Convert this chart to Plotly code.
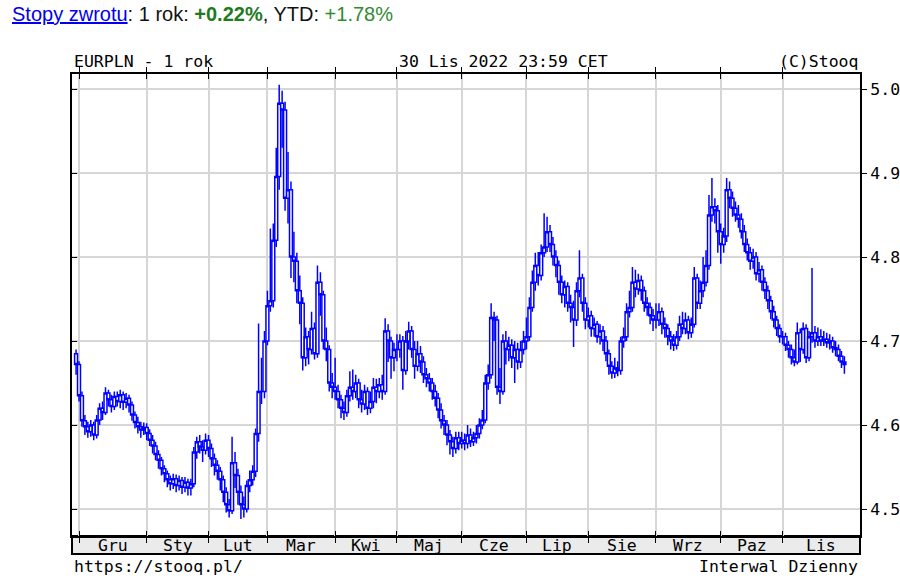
import plotly.graph_objects as go
import pandas as pd

# ---------------- data (EURPLN daily, 30 Nov 2021 - 30 Nov 2022) ----------------
first_open = 4.685

close_dec = [4.672, 4.635, 4.605, 4.598, 4.592, 4.600, 4.588, 4.606, 4.620, 4.615,
             4.638, 4.630, 4.622, 4.634, 4.628, 4.636, 4.627, 4.632, 4.624, 4.612,
             4.603, 4.598, 4.594, 4.597]
close_jan = [4.590, 4.582, 4.575, 4.565, 4.558, 4.548, 4.542, 4.535, 4.530, 4.536,
             4.528, 4.534, 4.526, 4.532, 4.525, 4.530, 4.568, 4.580, 4.574, 4.570, 4.582]
close_feb = [4.572, 4.560, 4.552, 4.545, 4.535, 4.520, 4.505, 4.498, 4.555, 4.540,
             4.520, 4.505, 4.500, 4.528, 4.535, 4.545, 4.590, 4.640, 4.640, 4.700]
close_mar = [4.742, 4.748, 4.820, 4.896, 4.983, 4.975, 4.870, 4.880, 4.800, 4.795,
             4.760, 4.745, 4.680, 4.705, 4.690, 4.715, 4.685, 4.770, 4.755, 4.700,
             4.690, 4.650, 4.645]
close_apr = [4.640, 4.630, 4.620, 4.615, 4.635, 4.645, 4.640, 4.650, 4.630, 4.625,
             4.640, 4.620, 4.628, 4.645, 4.640, 4.648, 4.640, 4.712, 4.700, 4.680, 4.690]
close_may = [4.690, 4.700, 4.665, 4.700, 4.712, 4.690, 4.670, 4.685, 4.675, 4.660,
             4.655, 4.650, 4.640, 4.632, 4.618, 4.605, 4.600, 4.588, 4.580, 4.572,
             4.585, 4.578]
close_jun = [4.582, 4.578, 4.588, 4.580, 4.585, 4.590, 4.600, 4.606, 4.650, 4.660,
             4.728, 4.725, 4.645, 4.640, 4.700, 4.690, 4.695, 4.680, 4.690, 4.675,
             4.690, 4.700]
close_jul = [4.705, 4.740, 4.770, 4.790, 4.778, 4.805, 4.812, 4.830, 4.815, 4.800,
             4.790, 4.770, 4.755, 4.765, 4.745, 4.740, 4.725, 4.760, 4.775, 4.745, 4.725]
close_aug = [4.730, 4.715, 4.720, 4.705, 4.712, 4.700, 4.685, 4.670, 4.662, 4.668,
             4.665, 4.700, 4.705, 4.735, 4.740, 4.770, 4.762, 4.772, 4.760, 4.745,
             4.740, 4.730, 4.725]
close_sep = [4.725, 4.735, 4.720, 4.715, 4.705, 4.700, 4.695, 4.705, 4.720, 4.715,
             4.725, 4.710, 4.720, 4.775, 4.745, 4.760, 4.770, 4.790, 4.850, 4.860,
             4.855, 4.830]
close_oct = [4.815, 4.825, 4.880, 4.870, 4.858, 4.850, 4.845, 4.830, 4.815, 4.805,
             4.795, 4.800, 4.780, 4.785, 4.770, 4.760, 4.748, 4.735, 4.725, 4.715, 4.705]
close_nov = [4.705, 4.695, 4.690, 4.680, 4.675, 4.710, 4.690, 4.715, 4.680, 4.705,
             4.710, 4.700, 4.705, 4.700, 4.702, 4.698, 4.700, 4.692, 4.690, 4.682,
             4.675, 4.672]

high_dec = [4.690, 4.676, 4.640, 4.612, 4.604, 4.606, 4.604, 4.612, 4.626, 4.628, 4.645, 4.642,
            4.636, 4.640, 4.640, 4.642, 4.640, 4.638, 4.636, 4.628, 4.616, 4.610, 4.604, 4.603]
low_dec = [4.660, 4.628, 4.598, 4.588, 4.585, 4.586, 4.582, 4.584, 4.600, 4.606, 4.612, 4.622,
           4.615, 4.618, 4.622, 4.620, 4.618, 4.620, 4.615, 4.605, 4.596, 4.590, 4.585, 4.588]
high_jan = [4.602, 4.595, 4.588, 4.580, 4.570, 4.562, 4.552, 4.546, 4.540, 4.542, 4.541,
            4.540, 4.538, 4.538, 4.536, 4.536, 4.574, 4.586, 4.588, 4.582, 4.590]
low_jan = [4.582, 4.575, 4.566, 4.558, 4.548, 4.540, 4.532, 4.526, 4.522, 4.524, 4.520,
           4.522, 4.518, 4.520, 4.516, 4.516, 4.526, 4.560, 4.566, 4.556, 4.565]
high_feb = [4.588, 4.578, 4.566, 4.558, 4.550, 4.540, 4.526, 4.512, 4.586, 4.568,
            4.548, 4.528, 4.515, 4.534, 4.546, 4.552, 4.596, 4.721, 4.680, 4.712]
low_feb = [4.562, 4.550, 4.540, 4.535, 4.522, 4.508, 4.496, 4.490, 4.494, 4.525,
           4.505, 4.488, 4.490, 4.496, 4.520, 4.528, 4.538, 4.580, 4.625, 4.632]
high_mar = [4.760, 4.834, 4.840, 4.930, 5.005, 4.998, 4.985, 4.925, 4.890, 4.830, 4.805, 4.778,
            4.752, 4.716, 4.712, 4.735, 4.722, 4.790, 4.782, 4.760, 4.716, 4.695, 4.662]
low_mar = [4.695, 4.735, 4.740, 4.812, 4.880, 4.930, 4.855, 4.840, 4.775, 4.770, 4.745, 4.720,
           4.665, 4.670, 4.672, 4.684, 4.678, 4.680, 4.730, 4.690, 4.676, 4.640, 4.632]
high_apr = [4.680, 4.648, 4.636, 4.628, 4.642, 4.664, 4.666, 4.660, 4.655, 4.642, 4.648,
            4.645, 4.640, 4.656, 4.655, 4.656, 4.660, 4.727, 4.720, 4.705, 4.698]
low_apr = [4.630, 4.620, 4.608, 4.606, 4.610, 4.628, 4.630, 4.632, 4.620, 4.615, 4.618,
           4.612, 4.614, 4.620, 4.626, 4.632, 4.630, 4.636, 4.675, 4.655, 4.664]
high_may = [4.708, 4.708, 4.706, 4.712, 4.723, 4.718, 4.700, 4.700, 4.694, 4.682, 4.668,
            4.662, 4.656, 4.648, 4.638, 4.626, 4.612, 4.606, 4.594, 4.586, 4.592, 4.592]
low_may = [4.676, 4.680, 4.642, 4.660, 4.690, 4.680, 4.655, 4.664, 4.662, 4.650, 4.645,
           4.640, 4.630, 4.622, 4.608, 4.596, 4.588, 4.576, 4.565, 4.562, 4.566, 4.570]
high_jun = [4.592, 4.590, 4.600, 4.596, 4.592, 4.600, 4.608, 4.618, 4.660, 4.672, 4.745,
            4.735, 4.730, 4.668, 4.708, 4.712, 4.705, 4.702, 4.700, 4.698, 4.700, 4.712]
low_jun = [4.572, 4.570, 4.572, 4.574, 4.575, 4.578, 4.584, 4.595, 4.602, 4.642, 4.655,
           4.700, 4.636, 4.625, 4.636, 4.672, 4.676, 4.668, 4.650, 4.666, 4.668, 4.684]
high_jul = [4.728, 4.752, 4.784, 4.805, 4.806, 4.815, 4.852, 4.848, 4.838, 4.824, 4.808,
            4.796, 4.778, 4.772, 4.770, 4.755, 4.748, 4.770, 4.808, 4.780, 4.752]
low_jul = [4.690, 4.700, 4.735, 4.760, 4.766, 4.772, 4.800, 4.806, 4.806, 4.790, 4.776,
           4.755, 4.745, 4.740, 4.735, 4.722, 4.693, 4.718, 4.752, 4.735, 4.714]
high_aug = [4.740, 4.736, 4.728, 4.724, 4.720, 4.718, 4.706, 4.690, 4.676, 4.680, 4.676, 4.705,
            4.716, 4.745, 4.760, 4.788, 4.785, 4.780, 4.778, 4.765, 4.752, 4.746, 4.738]
low_aug = [4.716, 4.705, 4.705, 4.698, 4.696, 4.688, 4.676, 4.660, 4.655, 4.656, 4.658, 4.660,
           4.692, 4.700, 4.728, 4.735, 4.752, 4.755, 4.748, 4.735, 4.730, 4.720, 4.712]
high_sep = [4.745, 4.745, 4.740, 4.728, 4.720, 4.712, 4.708, 4.712, 4.730, 4.735, 4.734,
            4.730, 4.728, 4.788, 4.780, 4.772, 4.800, 4.808, 4.874, 4.894, 4.870, 4.862]
low_sep = [4.715, 4.718, 4.708, 4.704, 4.695, 4.690, 4.688, 4.690, 4.700, 4.708, 4.708,
           4.702, 4.704, 4.716, 4.738, 4.738, 4.752, 4.765, 4.785, 4.842, 4.840, 4.805]
high_oct = [4.840, 4.835, 4.894, 4.890, 4.878, 4.866, 4.862, 4.852, 4.838, 4.822, 4.812,
            4.810, 4.806, 4.794, 4.790, 4.776, 4.766, 4.754, 4.742, 4.730, 4.720]
low_oct = [4.792, 4.805, 4.818, 4.858, 4.848, 4.842, 4.835, 4.822, 4.806, 4.796, 4.785,
           4.786, 4.772, 4.770, 4.760, 4.750, 4.738, 4.726, 4.716, 4.706, 4.698]
high_nov = [4.712, 4.710, 4.700, 4.696, 4.690, 4.722, 4.715, 4.722, 4.720, 4.712, 4.787,
            4.718, 4.716, 4.714, 4.712, 4.710, 4.708, 4.705, 4.700, 4.696, 4.688, 4.682]
low_nov = [4.696, 4.688, 4.680, 4.672, 4.670, 4.672, 4.675, 4.685, 4.674, 4.676, 4.698,
           4.692, 4.694, 4.694, 4.694, 4.692, 4.690, 4.686, 4.682, 4.676, 4.668, 4.661]

month_labels = ["Gru", "Sty", "Lut", "Mar", "Kwi", "Maj", "Cze", "Lip", "Sie", "Wrz", "Paz", "Lis"]
y_ticks = [4.5, 4.6, 4.7, 4.8, 4.9, 5.0]

# ---------------- assemble ----------------
close = (close_dec + close_jan + close_feb + close_mar + close_apr + close_may +
         close_jun + close_jul + close_aug + close_sep + close_oct + close_nov)
high = (high_dec + high_jan + high_feb + high_mar + high_apr + high_may +
        high_jun + high_jul + high_aug + high_sep + high_oct + high_nov)
low = (low_dec + low_jan + low_feb + low_mar + low_apr + low_may +
       low_jun + low_jul + low_aug + low_sep + low_oct + low_nov)
open_ = [first_open] + close[:-1]   # FX: each day opens at previous close

dates = pd.bdate_range("2021-11-30", "2022-11-30")
n = min(len(dates), len(close))
dates = dates[:n]
xs = [d.strftime("%Y-%m-%d") for d in dates]

month_idx = []
for i in range(1, n):
    if dates[i].month != dates[i - 1].month:
        month_idx.append(i)

X_MIN, X_MAX = -1.38, 266.3
Y_MIN, Y_MAX = 4.4679, 5.0179

BLUE = "#0000FF"
MONO = "DejaVu Sans Mono"
FS = 16.5

fig = go.Figure()
fig.add_trace(go.Candlestick(
    x=xs, open=open_[:n], high=high[:n], low=low[:n], close=close[:n],
    increasing=dict(line=dict(color=BLUE, width=1.5), fillcolor="white"),
    decreasing=dict(line=dict(color=BLUE, width=1.5), fillcolor="white"),
    whiskerwidth=0, showlegend=False, hoverinfo="skip",
))
fig.add_trace(go.Scatter(x=[xs[0]], y=[4.7], yaxis="y2", mode="markers",
                         marker=dict(opacity=0), showlegend=False, hoverinfo="skip"))

fig.update_layout(
    width=900, height=578,
    margin=dict(l=72, r=40, t=74, b=42, autoexpand=False),
    paper_bgcolor="white", plot_bgcolor="white",
    showlegend=False, boxgap=0.0, boxgroupgap=0.0,
    xaxis=dict(
        type="category", range=[X_MIN, X_MAX], automargin=False,
        tickmode="array", tickvals=[xs[i] for i in month_idx],
        showticklabels=False, ticks="inside", ticklen=5, tickwidth=1, tickcolor="black",
        showgrid=True, gridcolor="#d6d6d6", gridwidth=1.5,
        showline=True, linecolor="black", linewidth=2, mirror="allticks",
        rangeslider=dict(visible=False), fixedrange=True, zeroline=False,
    ),
    yaxis=dict(
        side="right", range=[Y_MIN, Y_MAX], automargin=False,
        tickmode="array", tickvals=y_ticks, ticktext=[f"{v:.1f}" for v in y_ticks],
        ticks="outside", ticklen=5, tickwidth=1, tickcolor="black",
        tickfont=dict(family=MONO, size=FS, color="black"),
        showgrid=True, gridcolor="#d6d6d6", gridwidth=1.5,
        showline=True, linecolor="black", linewidth=2, mirror=True,
        zeroline=False, fixedrange=True,
    ),
    yaxis2=dict(
        overlaying="y", side="left", range=[Y_MIN, Y_MAX], matches="y", automargin=False,
        tickmode="array", tickvals=y_ticks, showticklabels=False,
        ticks="inside", ticklen=5, tickwidth=1, tickcolor="black",
        showgrid=False, showline=False, zeroline=False, fixedrange=True,
    ),
)

band_h = 18 / 462
fig.add_shape(type="rect", xref="paper", yref="paper", x0=0, x1=1, y0=-band_h, y1=0,
              fillcolor="#ebebeb", line=dict(color="black", width=2), layer="below")

bounds = month_idx + [X_MAX]
for k, lab in enumerate(month_labels):
    mid = (bounds[k] + bounds[k + 1]) / 2
    fig.add_annotation(x=mid, xref="x", y=-band_h / 2, yref="paper", text=lab,
                       showarrow=False, xanchor="center", yanchor="middle",
                       font=dict(family=MONO, size=FS, color="black"))

hdr = dict(family=MONO, size=FS, color="black")
fig.add_annotation(x=0, xref="paper", y=1.0, yref="paper", yshift=1, text="EURPLN - 1 rok",
                   showarrow=False, xanchor="left", yanchor="bottom", font=hdr)
fig.add_annotation(x=(397 - 72) / 788, xref="paper", y=1.0, yref="paper", yshift=1,
                   text="30 Lis 2022 23:59 CET", showarrow=False,
                   xanchor="left", yanchor="bottom", font=hdr)
fig.add_annotation(x=1, xref="paper", y=1.0, yref="paper", yshift=1, text="(C)Stooq",
                   showarrow=False, xanchor="right", yanchor="bottom", font=hdr)
fig.add_annotation(x=0, xref="paper", y=-band_h, yref="paper", yshift=-1, text="https://stooq.pl/",
                   showarrow=False, xanchor="left", yanchor="top", font=hdr)
fig.add_annotation(x=1, xref="paper", y=-band_h, yref="paper", yshift=-1, text="Interwal Dzienny",
                   showarrow=False, xanchor="right", yanchor="top", font=hdr)

title_html = ("<span style='color:#0000EE;text-decoration:underline'>Stopy zwrotu</span>"
              ": 1 rok: <b><span style='color:#1E7B1E'>+0.22%</span></b>, YTD: "
              "<span style='color:#2E8B2E'>+1.78%</span>")
fig.add_annotation(x=(10 - 72) / 788, xref="paper", y=1 + (74 - 14) / 462, yref="paper",
                   text=title_html, showarrow=False, xanchor="left", yanchor="middle",
                   font=dict(family="Liberation Sans, Arial", size=20, color="#111111"))

fig.write_html("out.html", config={"displayModeBar": False},
               post_script="document.body.style.margin='0';")
